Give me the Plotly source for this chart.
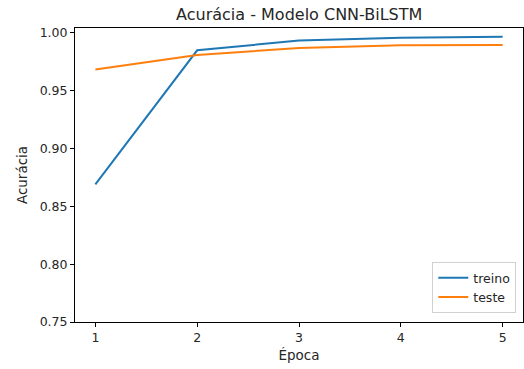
import plotly.graph_objects as go

# Accuracy per epoch for the CNN-BiLSTM model
epocas = [1, 2, 3, 4, 5]
acc_treino = [0.869, 0.985, 0.9935, 0.9958, 0.9968]
acc_teste = [0.9685, 0.981, 0.987, 0.9893, 0.9895]
y_ticks = [0.75, 0.80, 0.85, 0.90, 0.95, 1.00]

fig = go.Figure()
fig.add_trace(go.Scatter(x=epocas, y=acc_treino, mode="lines", name="treino",
                         line=dict(color="#1f77b4", width=2)))
fig.add_trace(go.Scatter(x=epocas, y=acc_teste, mode="lines", name="teste",
                         line=dict(color="#ff7f0e", width=2)))

font = "DejaVu Sans, sans-serif"
fig.update_layout(
    width=524, height=369,
    margin=dict(l=75, r=1, t=28, b=47),
    paper_bgcolor="white", plot_bgcolor="white",
    font=dict(family=font, size=12.5, color="#262626"),
    title=dict(text="Acurácia - Modelo CNN-BiLSTM", x=0.571, xanchor="center",
               y=0.96, yanchor="middle", font=dict(size=16, color="#262626")),
    legend=dict(x=0.985, y=0.03, xanchor="right", yanchor="bottom",
                bordercolor="#d0d0d0", borderwidth=1, bgcolor="white",
                font=dict(size=12.5), itemwidth=30),
    showlegend=True,
)
fig.update_xaxes(range=[0.8, 5.2], tickvals=epocas, ticktext=[str(e) for e in epocas],
                 showgrid=False, zeroline=False, showline=True, linecolor="black",
                 linewidth=1, mirror=True, ticks="outside", ticklen=4, tickcolor="black",
                 title=dict(text="Época", standoff=6, font=dict(size=13.5)))
fig.update_yaxes(range=[0.75, 1.0043], tickvals=y_ticks,
                 ticktext=[f"{v:.2f}" for v in y_ticks],
                 showgrid=False, zeroline=False, showline=True, linecolor="black",
                 linewidth=1, mirror=True, ticks="outside", ticklen=4, tickcolor="black",
                 title=dict(text="Acurácia", standoff=8, font=dict(size=13.5)))

fig.write_html("out.html")
